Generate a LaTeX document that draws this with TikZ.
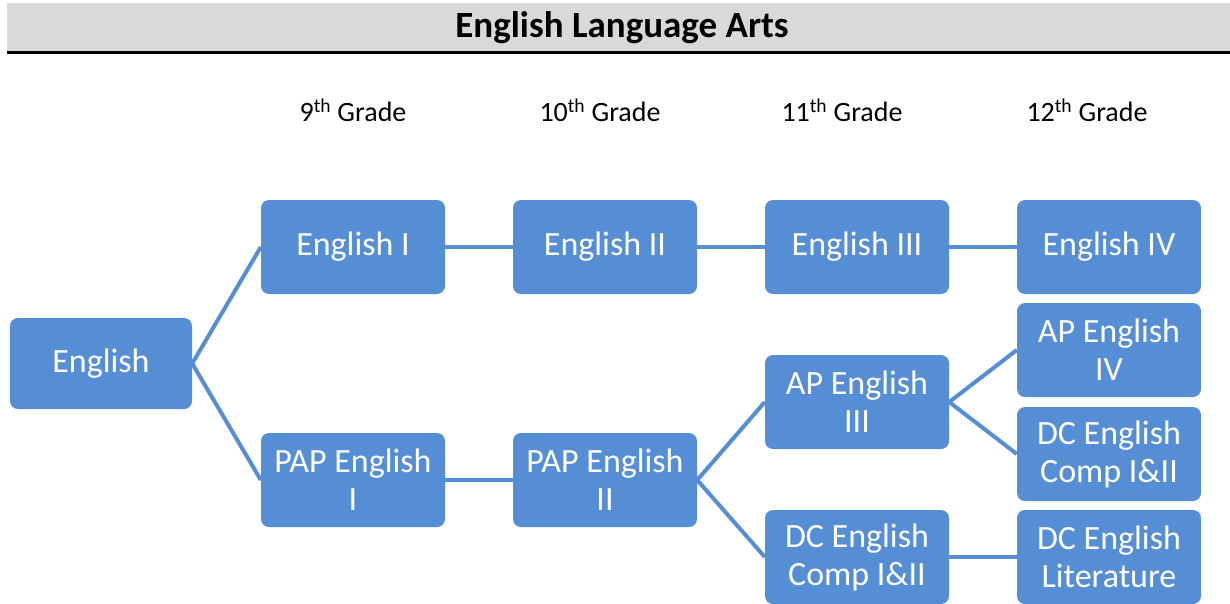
\documentclass[tikz,border=0pt]{standalone}
\usepackage{fontspec}
\setmainfont{Carlito}
\definecolor{boxblue}{RGB}{86,142,213}
\definecolor{bargray}{RGB}{217,217,217}
\begin{document}
\begin{tikzpicture}[x=1pt,y=-1pt,
  course/.style={draw=none,fill=boxblue,rounded corners=8pt,minimum width=184pt,minimum height=94pt,
     text=white,align=center,inner sep=0pt,font=\fontsize{34}{38}\selectfont},
  link/.style={draw=boxblue,line width=4pt},
  grade/.style={font=\fontsize{28}{32}\selectfont,inner sep=0pt}]
\useasboundingbox (0,0) rectangle (1230,603);
\fill[white] (0,0) rectangle (1230,603);
\fill[bargray] (7,3) rectangle (1230,51);
\draw[line width=3pt] (7,52) -- (1230,52);
\node[font=\bfseries\fontsize{37}{40}\selectfont,inner sep=0pt] (title) at (622,28) {English Language Arts};
\node[grade] (g9) at (353,110) {9\textsuperscript{th} Grade};
\node[grade] (g10) at (600,110) {10\textsuperscript{th} Grade};
\node[grade] (g11) at (842,110) {11\textsuperscript{th} Grade};
\node[grade] (g12) at (1087,110) {12\textsuperscript{th} Grade};
\node[course,minimum width=182pt,minimum height=91pt] (eng) at (101,363.5) {English};
\node[course] (e1) at (353,247) {English I};
\node[course] (e2) at (605,247) {English II};
\node[course] (e3) at (857,247) {English III};
\node[course] (e4) at (1109,247) {English IV};
\node[course] (p1) at (353,480) {PAP English\\I};
\node[course] (p2) at (605,480) {PAP English\\II};
\node[course] (ap3) at (857,402) {AP English\\III};
\node[course] (ap4) at (1109,350) {AP English\\IV};
\node[course] (dc12) at (1109,454) {DC English\\Comp I\&II};
\node[course] (dc11) at (857,557) {DC English\\Comp I\&II};
\node[course] (dcl) at (1109,557) {DC English\\Literature};
\draw[link] (eng.east) -- (e1.west);
\draw[link] (eng.east) -- (p1.west);
\draw[link] (e1.east) -- (e2.west);
\draw[link] (e2.east) -- (e3.west);
\draw[link] (e3.east) -- (e4.west);
\draw[link] (p1.east) -- (p2.west);
\draw[link] (p2.east) -- (ap3.west);
\draw[link] (p2.east) -- (dc11.west);
\draw[link] (ap3.east) -- (ap4.west);
\draw[link] (ap3.east) -- (dc12.west);
\draw[link] (dc11.east) -- (dcl.west);
\end{tikzpicture}
\end{document}
